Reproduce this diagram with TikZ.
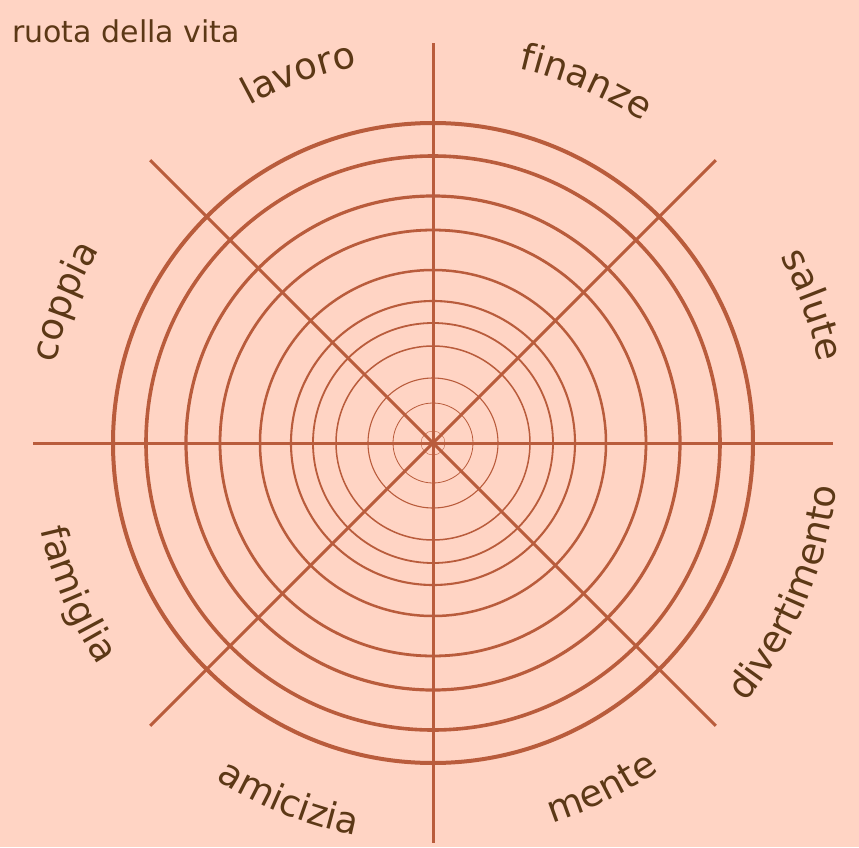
\documentclass[tikz,border=0pt]{standalone}
\usepackage{fontspec}
\setmainfont{DejaVu Sans}
\usetikzlibrary{decorations.text}

\definecolor{wheelbg}{RGB}{255,212,196}
\definecolor{wheelline}{RGB}{185,92,60}
\definecolor{wheeltext}{RGB}{92,56,22}

\newcommand{\labelfont}{\fontsize{37}{37}\selectfont}

\tikzset{
  spoke/.style={wheelline, line width=3pt},
  arclabel/.style={decorate, decoration={text along path, text align=center,
      text color=wheeltext, text={|\labelfont|#1}}},
}

\begin{document}
\begin{tikzpicture}[x=1pt, y=1pt]

        % Background
        \fill[wheelbg] (-433,-404) rectangle (426,443);
        \useasboundingbox (-433,-404) rectangle (426,443);

        % Rings, thicker towards the rim
        \foreach \r/\w in {12/0.4, 40/0.8, 65/1.1, 97/1.5, 120/1.8, 142/2.1,
                           173/2.5, 213/2.8, 247/3.2, 287/3.6, 320/4}
          \draw[wheelline, line width=\w pt] (0,0) circle[radius=\r];

        % Spokes
        \foreach \a in {0,45,...,315}
          \draw[spoke] (0,0) -- (\a:400);

        % Labels on the upper half (read clockwise)
        \path[arclabel=lavoro]  (146:384) arc[start angle=146, end angle=74, radius=384];
        \path[arclabel=finanze] (103:384) arc[start angle=103, end angle=31, radius=384];
        \path[arclabel=salute]  (57:394)  arc[start angle=57, end angle=-17, radius=394];
        \path[arclabel=coppia]  (195:386) arc[start angle=195, end angle=123, radius=386];

        % Labels on the lower half (read counterclockwise)
        \path[arclabel=divertimento] (-64:406)  arc[start angle=-64, end angle=18, radius=406];
        \path[arclabel=mente]        (-101:398) arc[start angle=-101, end angle=-27, radius=398];
        \path[arclabel=amicizia]     (-148:400) arc[start angle=-148, end angle=-76, radius=400];
        \path[arclabel=famiglia]     (-193:402) arc[start angle=-193, end angle=-121, radius=402];

        % Title
        \node[anchor=base west, inner sep=0pt, text=wheeltext, font=\fontsize{30}{30}\selectfont]
          (title) at (-421,400) {ruota della vita};

\end{tikzpicture}
\end{document}
